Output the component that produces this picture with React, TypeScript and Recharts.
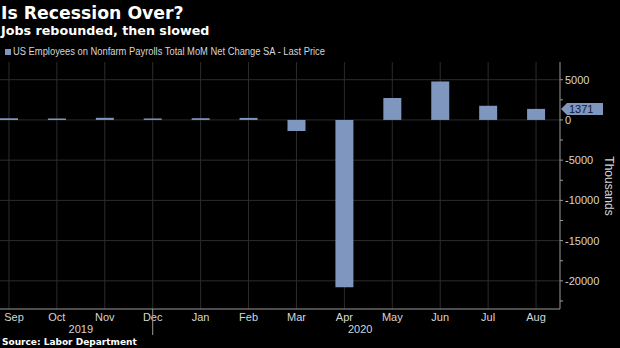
import React from 'react';
import { BarChart, Bar, XAxis, YAxis, CartesianGrid, ReferenceDot } from 'recharts';

const months = ['Sep', 'Oct', 'Nov', 'Dec', 'Jan', 'Feb', 'Mar', 'Apr', 'May', 'Jun', 'Jul', 'Aug'];
const payrollChange = [208, 185, 261, 184, 214, 251, -1373, -20787, 2725, 4781, 1761, 1371];
const yearLabels = ['2019', '2020'];
const yearPositions = [1.5, 7.33];
const majorTicks = [5000, 0, -5000, -10000, -15000, -20000];
const minorTicks = [2500, -2500, -7500, -12500, -17500, -22500];
const lastPrice = 1371;

const data = months.map((m, i) => ({ i, month: m, value: payrollChange[i] }));

const BAR = '#7f96be';
const GRID = '#2c2c2c';
const AXIS = '#9a9a9a';
const TEXT = '#d6d6d6';
const FONT = '"Liberation Sans", Arial, sans-serif';
const BOLD = '"DejaVu Sans", Verdana, sans-serif';

const MonthTick = (props: any) => {
  const { x, y, payload } = props;
  const label = months[payload.value];
  return (
    <g>
      <text x={Math.max(x, 14)} y={y + 12} textAnchor="middle" fill={TEXT} fontSize={11} fontFamily={FONT}>
        {label}
      </text>
      {label === 'Dec' ? <line x1={x} x2={x} y1={y} y2={y + 26} stroke={AXIS} strokeWidth={1} /> : null}
    </g>
  );
};

const YearTick = (props: any) => {
  const { x, y, payload } = props;
  const idx = yearPositions.indexOf(payload.value);
  return (
    <text x={x} y={y + 12} textAnchor="middle" fill={TEXT} fontSize={11} fontFamily={FONT}>
      {yearLabels[idx]}
    </text>
  );
};

const RightTick = (props: any) => {
  const { x, y, payload } = props;
  const major = majorTicks.includes(payload.value);
  return (
    <g>
      <line x1={x} x2={x + 3} y1={y} y2={y} stroke={AXIS} strokeWidth={1} />
      {major ? (
        <text x={x + 5} y={y + 4} textAnchor="start" fill={TEXT} fontSize={11} fontFamily={FONT}>
          {payload.value}
        </text>
      ) : null}
    </g>
  );
};

const LastPriceTag = (props: any) => {
  const { cx, cy } = props;
  const pts = `${cx + 1},${cy} ${cx + 7},${cy - 6} ${cx + 43},${cy - 6} ${cx + 43},${cy + 6} ${cx + 7},${cy + 6}`;
  return (
    <g>
      <polygon points={pts} fill={BAR} />
      <text x={cx + 9} y={cy + 4} fill="#0d1a33" fontSize={11} fontFamily={FONT}>
        {lastPrice}
      </text>
    </g>
  );
};

export default function App() {
  return (
    <div style={{ position: 'absolute', left: 0, top: 0, width: 620, height: 348, background: '#000', overflow: 'hidden' }}>
      <BarChart
        width={620}
        height={348}
        data={data}
        margin={{ top: 62, right: 0, bottom: 15, left: 0 }}
        style={{ position: 'absolute', left: 0, top: 0 }}
      >
        <CartesianGrid
          xAxisId="m"
          stroke={GRID}
          horizontalValues={majorTicks}
          verticalValues={data.map((d) => d.i)}
        />
        <XAxis
          xAxisId="m"
          type="number"
          dataKey="i"
          domain={[-0.187, 11.5]}
          allowDataOverflow
          ticks={data.map((d) => d.i)}
          interval={0}
          height={12}
          tickSize={0}
          tickMargin={0}
          tickLine={false}
          axisLine={{ stroke: AXIS }}
          tick={<MonthTick />}
        />
        <XAxis
          xAxisId="y"
          type="number"
          dataKey="i"
          domain={[-0.187, 11.5]}
          allowDataOverflow
          ticks={yearPositions}
          interval={0}
          height={12}
          tickSize={0}
          tickMargin={0}
          tickLine={false}
          axisLine={false}
          tick={<YearTick />}
        />
        <YAxis
          orientation="right"
          domain={[-23500, 7200]}
          allowDataOverflow
          ticks={[...majorTicks, ...minorTicks].sort((a, b) => b - a)}
          interval={0}
          width={60}
          tickSize={0}
          tickMargin={0}
          tickLine={false}
          axisLine={{ stroke: AXIS }}
          tick={<RightTick />}
        />
        <Bar xAxisId="m" dataKey="value" fill={BAR} barSize={18} isAnimationActive={false} />
        <ReferenceDot xAxisId="m" x={11.5} y={lastPrice} ifOverflow="visible" shape={<LastPriceTag />} />
      </BarChart>
      <svg width={620} height={348} style={{ position: 'absolute', left: 0, top: 0, pointerEvents: 'none' }}>
        <text x={1} y={19} fill="#ffffff" fontSize={17.3} fontWeight="bold" fontFamily={BOLD}>
          Is Recession Over?
        </text>
        <text x={1} y={35} fill="#ffffff" fontSize={12.7} fontWeight="bold" fontFamily={BOLD}>
          Jobs rebounded, then slowed
        </text>
        <rect x={5} y={49} width={6} height={6} fill={BAR} />
        <text x={13} y={55} fill={TEXT} fontSize={10} fontFamily={FONT} textLength={312} lengthAdjust="spacingAndGlyphs">
          US Employees on Nonfarm Payrolls Total MoM Net Change SA - Last Price
        </text>
        <text x={2} y={345} fill="#ffffff" fontSize={9} fontWeight="bold" fontFamily={BOLD}>
          Source: Labor Department
        </text>
        <text x={605} y={186} fill={TEXT} fontSize={12} fontFamily={FONT} textAnchor="middle" transform="rotate(90 605 186)">
          Thousands
        </text>
      </svg>
    </div>
  );
}
